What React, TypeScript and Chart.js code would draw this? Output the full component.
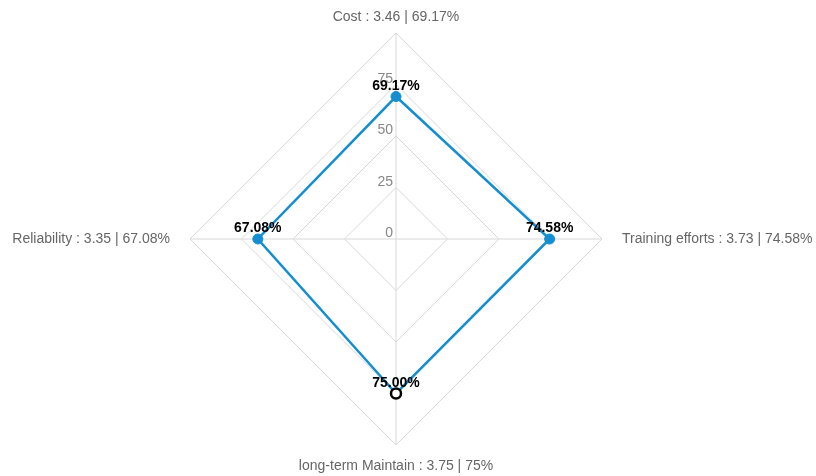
import React, { useEffect, useRef } from "react";
import { Chart, registerables } from "chart.js";

Chart.register(...registerables);

const categories = ["Cost", "Training efforts", "long-term Maintain", "Reliability"];
const scores = [3.46, 3.73, 3.75, 3.35];
const scoreText = ["3.46", "3.73", "3.75", "3.35"];
const percentText = ["69.17%", "74.58%", "75%", "67.08%"];
const values = [69.17, 74.58, 75.0, 67.08];
const tickValues = [0, 25, 50, 75];

const BLUE = "#148ed0";
const FONT = '"Liberation Sans", Arial, sans-serif';
const LABEL_GAP = [16, 20, 21, 20];

const textPlugin = {
  id: "customText",
  beforeDatasetsDraw(chart: any) {
    const scale = chart.scales.r;
    const ctx = chart.ctx;
    ctx.save();
    ctx.font = `14px ${FONT}`;
    ctx.fillStyle = "#888";
    ctx.textAlign = "right";
    ctx.textBaseline = "alphabetic";
    tickValues.forEach((v) => {
      const d = scale.getDistanceFromCenterForValue(v);
      ctx.fillText(String(v), scale.xCenter - 3, scale.yCenter - d - 2);
    });
    // point labels
    ctx.fillStyle = "#666";
    ctx.textBaseline = "middle";
    const outer = scale.getDistanceFromCenterForValue(scale.max);
    categories.forEach((c, i) => {
      const txt = `${c} : ${scoreText[i]} | ${percentText[i]}`;
      const p = scale.getPointPosition(i, outer + LABEL_GAP[i]);
      ctx.textAlign = i === 1 ? "left" : i === 3 ? "right" : "center";
      ctx.fillText(txt, p.x, p.y);
    });
    ctx.restore();
  },
  afterDatasetsDraw(chart: any) {
    const meta = chart.getDatasetMeta(0);
    const ctx = chart.ctx;
    ctx.save();
    ctx.font = `bold 14px ${FONT}`;
    ctx.fillStyle = "#000";
    ctx.textAlign = "center";
    ctx.textBaseline = "alphabetic";
    meta.data.forEach((pt: any, i: number) => {
      ctx.fillText(values[i].toFixed(2) + "%", pt.x, pt.y - 7);
    });
    ctx.restore();
  },
};

export default function App() {
  const ref = useRef<HTMLCanvasElement>(null);
  useEffect(() => {
    if (!ref.current) return;
    const chart = new Chart(ref.current, {
      type: "radar",
      data: {
        labels: categories,
        datasets: [
          {
            label: "Score",
            data: values,
            borderColor: BLUE,
            borderWidth: 2.5,
            fill: false,
            pointRadius: 5,
            pointHoverRadius: 5,
            pointBackgroundColor: [BLUE, BLUE, "#fff", BLUE],
            pointBorderColor: [BLUE, BLUE, "#000", BLUE],
            pointBorderWidth: [1, 1, 2.5, 1],
          },
        ],
      },
      options: {
        animation: false,
        responsive: false,
        devicePixelRatio: 1,
        layout: { padding: { top: 33, bottom: 31, left: 0, right: 24 } },
        plugins: { legend: { display: false }, tooltip: { enabled: false } },
        scales: {
          r: {
            min: 0,
            max: 100,
            ticks: { stepSize: 25, display: false },
            grid: { color: "#d8d8d8", lineWidth: 1 },
            angleLines: { color: "#d8d8d8", lineWidth: 1 },
            pointLabels: { display: false },
          },
        },
      },
      plugins: [textPlugin],
    });
    return () => chart.destroy();
  }, []);
  return (
    <div style={{ position: "absolute", left: 0, top: 0, width: 816, height: 476, background: "#fff" }}>
      <canvas ref={ref} width={816} height={476} style={{ display: "block" }} />
    </div>
  );
}
